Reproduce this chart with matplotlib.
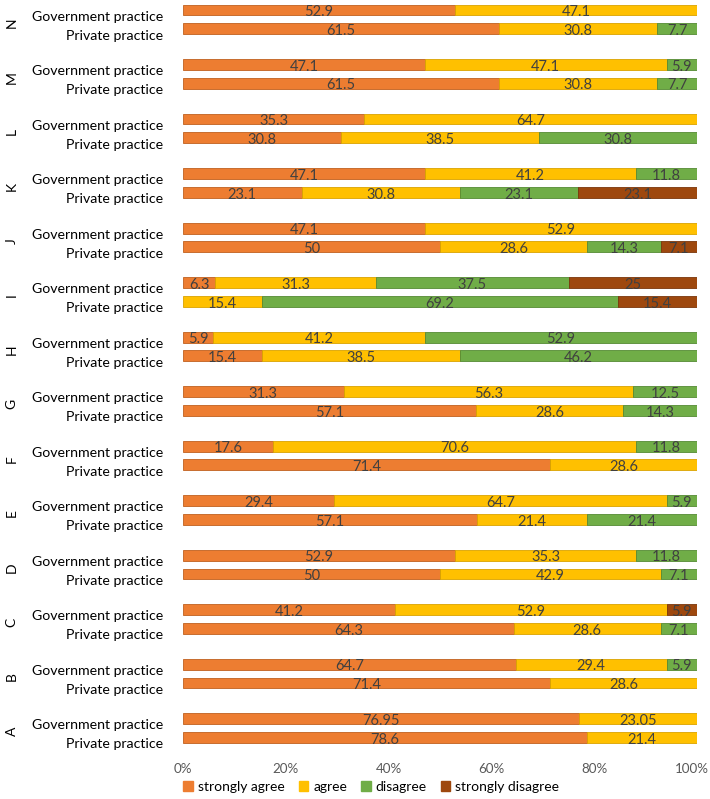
import matplotlib.pyplot as plt
import matplotlib.transforms as mtransforms
import numpy as np
from matplotlib.patches import Patch

plt.rcParams['font.family'] = ['Lato', 'DejaVu Sans']

# Data (top to bottom)
groups = ['N', 'M', 'L', 'K', 'J', 'I', 'H', 'G', 'F', 'E', 'D', 'C', 'B', 'A']
series = ['strongly agree', 'agree', 'disagree', 'strongly disagree']
colors = ['#ED7D31', '#FFC000', '#70AD47', '#9E480E']
edges = ['#C0601F', '#D9A300', '#548A33', '#7A360A']

gov_strongly_agree = [52.9, 47.1, 35.3, 47.1, 47.1, 6.3, 5.9, 31.3, 17.6, 29.4, 52.9, 41.2, 64.7, 76.95]
gov_agree = [47.1, 47.1, 64.7, 41.2, 52.9, 31.3, 41.2, 56.3, 70.6, 64.7, 35.3, 52.9, 29.4, 23.05]
gov_disagree = [0, 5.9, 0, 11.8, 0, 37.5, 52.9, 12.5, 11.8, 5.9, 11.8, 0, 5.9, 0]
gov_strongly_disagree = [0, 0, 0, 0, 0, 25, 0, 0, 0, 0, 0, 5.9, 0, 0]

priv_strongly_agree = [61.5, 61.5, 30.8, 23.1, 50, 0, 15.4, 57.1, 71.4, 57.1, 50, 64.3, 71.4, 78.6]
priv_agree = [30.8, 30.8, 38.5, 30.8, 28.6, 15.4, 38.5, 28.6, 28.6, 21.4, 42.9, 28.6, 28.6, 21.4]
priv_disagree = [7.7, 7.7, 30.8, 23.1, 14.3, 69.2, 46.2, 14.3, 0, 21.4, 7.1, 7.1, 0, 0]
priv_strongly_disagree = [0, 0, 0, 23.1, 7.1, 15.4, 0, 0, 0, 0, 0, 0, 0, 0]

gov = np.array([gov_strongly_agree, gov_agree, gov_disagree, gov_strongly_disagree]).T
priv = np.array([priv_strongly_agree, priv_agree, priv_disagree, priv_strongly_disagree]).T

fig = plt.figure(figsize=(7.1, 7.99), dpi=100)
ax = fig.add_axes([183 / 710, 1 - 752 / 799, 514 / 710, 752 / 799])

gap = 0.345
bh = 0.2
pos = np.arange(len(groups), dtype=float)


def draw(rows, ypos):
    for r, y in zip(rows, ypos):
        tot = r.sum()
        left = 0
        for k, v in enumerate(r):
            if v <= 0:
                continue
            w = v / tot
            ax.barh(y, w, left=left, height=bh, color=colors[k],
                    edgecolor=edges[k], linewidth=0.6)
            ax.text(left + w / 2, y + 0.04, f'{v:g}', ha='center', va='center',
                    fontsize=10.5, color='#404040')
            left += w


draw(gov, pos)
draw(priv, pos + gap)

ax.set_xlim(0, 1)
ax.set_ylim(13.61, -0.183)

lab_off = 0.105
ticks = np.concatenate([pos + lab_off, pos + gap + lab_off])
labels = ['Government practice'] * len(groups) + ['Private practice'] * len(groups)
ax.set_yticks(ticks)
ax.set_yticklabels(labels, fontsize=10.2, color='#000000')
ax.tick_params(axis='y', length=0, pad=14.5)

for g, y in zip(groups, pos):
    ax.text(-0.333, y + gap / 2 + 0.06, g, rotation=90, ha='center', va='center',
            fontsize=10, transform=ax.transData, clip_on=False)

ax.set_xticks(np.linspace(0, 1, 6))
ax.set_xticklabels([f'{int(p)}%' for p in np.linspace(0, 100, 6)], fontsize=9.6,
                   color='#595959')
ax.tick_params(axis='x', length=0, pad=8)
last = ax.xaxis.get_major_ticks()[-1].label1
last.set_transform(last.get_transform() +
                   mtransforms.ScaledTranslation(-5 / 100, 0, fig.dpi_scale_trans))
for s in ax.spines.values():
    s.set_visible(False)

handles = [Patch(color=c, label=s) for c, s in zip(colors, series)]
fig.legend(handles=handles, loc='lower center', ncol=4, frameon=False,
           fontsize=10, bbox_to_anchor=(0.523, -0.008), handlelength=0.7,
           handleheight=0.7, columnspacing=1.0, handletextpad=0.35)

fig.savefig('out.png', dpi=100)
